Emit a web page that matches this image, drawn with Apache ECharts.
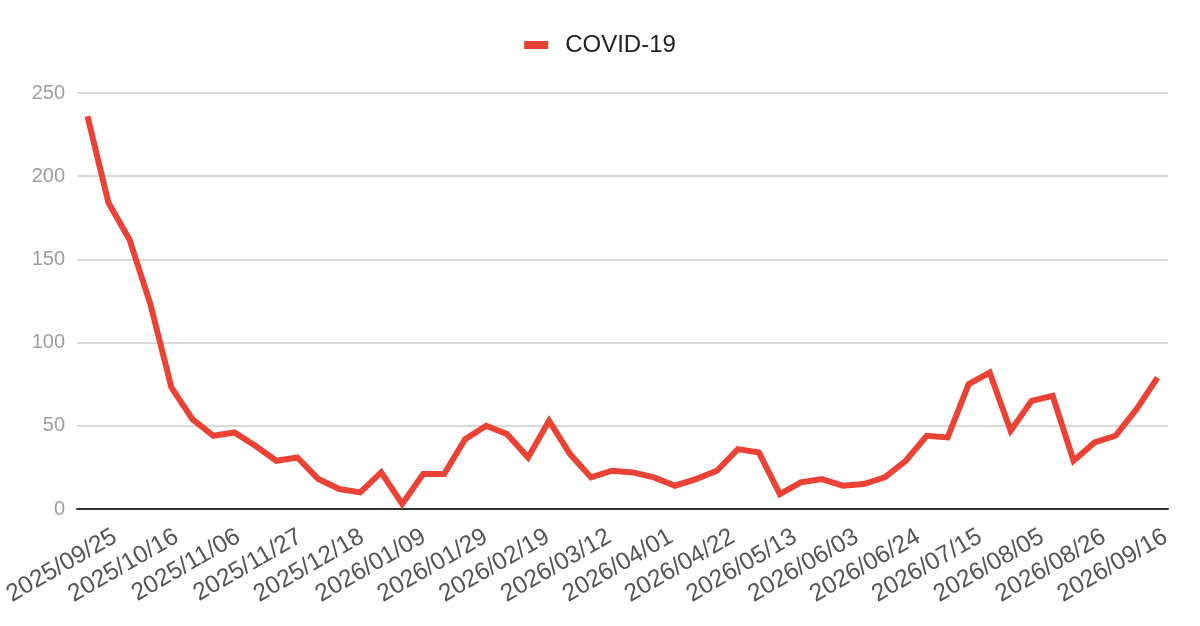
<!DOCTYPE html>
<html>
<head>
<meta charset="utf-8">
<script src="https://cdn.jsdelivr.net/npm/echarts@6/dist/echarts.min.js"></script>
<style>
    html, body { margin: 0; padding: 0; background: #fff; }
    #main { width: 1200px; height: 626px; }
</style>
</head>
<body>
<div id="main"></div>
<script>
// 周数据（每三周显示一个标签）
var weeks = [
    '2025/09/25', '2025/10/02', '2025/10/09', '2025/10/16', '2025/10/23', '2025/10/30',
    '2025/11/06', '2025/11/13', '2025/11/20', '2025/11/27', '2025/12/04', '2025/12/11',
    '2025/12/18', '2025/12/25', '2026/01/02', '2026/01/09', '2026/01/15', '2026/01/22',
    '2026/01/29', '2026/02/05', '2026/02/12', '2026/02/19', '2026/02/26', '2026/03/05',
    '2026/03/12', '2026/03/19', '2026/03/26', '2026/04/01', '2026/04/08', '2026/04/15',
    '2026/04/22', '2026/04/29', '2026/05/06', '2026/05/13', '2026/05/20', '2026/05/27',
    '2026/06/03', '2026/06/10', '2026/06/17', '2026/06/24', '2026/07/01', '2026/07/08',
    '2026/07/15', '2026/07/22', '2026/07/29', '2026/08/05', '2026/08/12', '2026/08/19',
    '2026/08/26', '2026/09/02', '2026/09/09', '2026/09/16'
];
var covidValues = [
    236, 184, 162, 123, 73, 54, 44, 46, 38, 29,
    31, 18, 12, 10, 22, 3, 21, 21, 42, 50,
    45, 31, 53, 33, 19, 23, 22, 19, 14, 18,
    23, 36, 34, 9, 16, 18, 14, 15, 19, 29,
    44, 43, 75, 82, 47, 65, 68, 29, 40, 44,
    60, 79
];
var yTicks = [0, 50, 100, 150, 200, 250];

var font = '"Liberation Sans", Arial, sans-serif';
var labelShift = 8; // 标签相对刻度的横向偏移

var myChart = echarts.init(document.getElementById('main'), null, { renderer: 'canvas' });
myChart.setOption({
    animation: false,
    backgroundColor: '#fff',
    legend: {
        top: 33,
        left: 'center',
        padding: 0,
        icon: 'rect',
        itemWidth: 24,
        itemHeight: 8,
        itemGap: 16,
        textStyle: { fontFamily: font, fontSize: 24, color: '#222', padding: [0, 0, 0, 12] },
        data: ['COVID-19']
    },
    grid: [
        { left: 77, right: 32, top: 93, bottom: 117 },
        { left: 77 + labelShift, right: 32 - labelShift, top: 93, bottom: 117 }
    ],
    xAxis: [{
        type: 'category',
        gridIndex: 0,
        data: weeks,
        boundaryGap: true,
        axisLine: { lineStyle: { color: '#333', width: 2 } },
        axisTick: { show: false },
        axisLabel: { show: false }
    }, {
        type: 'category',
        gridIndex: 1,
        data: weeks,
        boundaryGap: true,
        axisLine: { show: false },
        axisTick: { show: false },
        axisLabel: {
            interval: 2,
            rotate: 30,
            margin: 26,
            fontFamily: font,
            fontSize: 24.5,
            color: '#555'
        }
    }],
    yAxis: [{
        type: 'value',
        gridIndex: 0,
        min: yTicks[0],
        max: yTicks[yTicks.length - 1],
        interval: 50,
        axisLine: { show: false },
        axisTick: { show: false },
        axisLabel: { margin: 12, fontFamily: font, fontSize: 20, color: '#9e9e9e' },
        splitLine: { lineStyle: { color: '#cccccc', width: 1.5 } }
    }, {
        type: 'value',
        gridIndex: 1,
        min: yTicks[0],
        max: yTicks[yTicks.length - 1],
        show: false
    }],
    series: [{
        name: 'COVID-19',
        type: 'line',
        xAxisIndex: 0,
        yAxisIndex: 0,
        data: covidValues,
        showSymbol: false,
        symbol: 'none',
        itemStyle: { color: '#ea4335' },
        lineStyle: { color: '#ea4335', width: 6, join: 'miter' }
    }]
});
</script>
</body>
</html>
